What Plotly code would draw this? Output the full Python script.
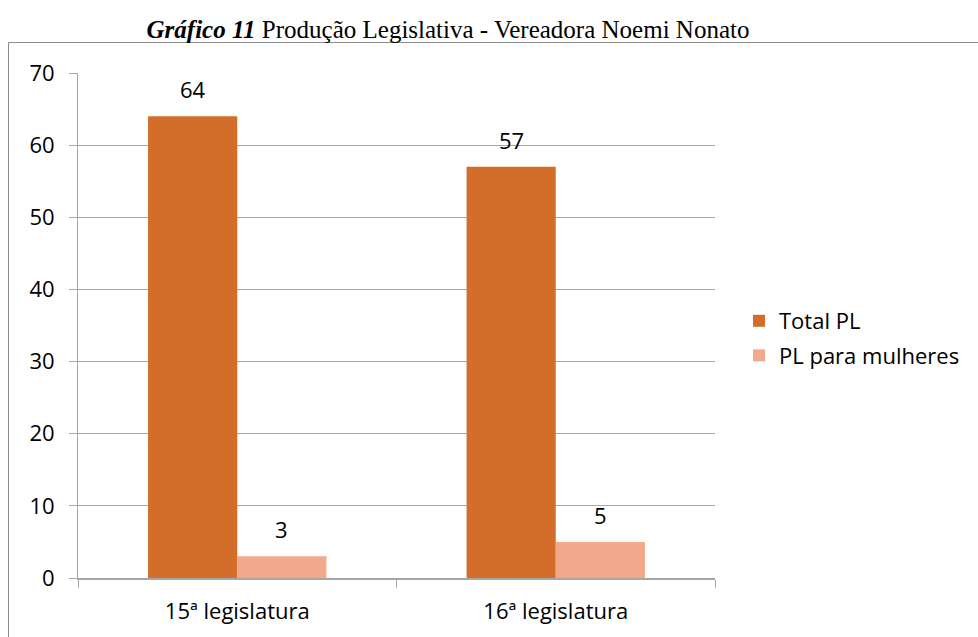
import plotly.graph_objects as go

categories = ["15ª legislatura", "16ª legislatura"]
total_pl = [64, 57]
pl_mulheres = [3, 5]
series_names = ["Total PL", "PL para mulheres"]
y_ticks = [0, 10, 20, 30, 40, 50, 60, 70]

W, H = 978, 637
# plot area in page pixels: x 78-715, y 73-578
L, T = 78, 73
pw, ph = 715 - 78, 578 - 73
R, B = W - L - pw, H - T - ph

FONT = "Open Sans"
BARGAP = 0.44

fig = go.Figure()
fig.add_bar(x=categories, y=total_pl, name=series_names[0], legendgroup="a",
            marker=dict(color="#D36E2A", line=dict(width=0)))
fig.add_bar(x=categories, y=pl_mulheres, name=series_names[1], legendgroup="b",
            marker=dict(color="#F2A98B", line=dict(width=0)))

# data labels
half = (1 - BARGAP) / 4
for vals, off in ((total_pl, -half), (pl_mulheres, half)):
    for i, v in enumerate(vals):
        fig.add_annotation(x=i + off, y=v, xref="x", yref="y", text=str(v),
                           showarrow=False, yshift=27,
                           font=dict(family=FONT, size=22, color="#000000"))

# outer border (top and left edges; the rest lies outside the picture)
bx0 = (8.5 - L) / pw
by1 = (T + ph - 42.5) / ph
border = dict(color="#8C8C8C", width=1)
fig.add_shape(type="line", xref="paper", yref="paper", x0=bx0, x1=(W + 50 - L) / pw,
              y0=by1, y1=by1, line=border, layer="below")
fig.add_shape(type="line", xref="paper", yref="paper", x0=bx0, x1=bx0,
              y0=by1, y1=-(H + 50 - (T + ph)) / ph, line=border, layer="below")

fig.update_layout(
    width=W, height=H,
    margin=dict(l=L, r=R, t=T, b=B, autoexpand=False),
    paper_bgcolor="white", plot_bgcolor="white",
    barmode="group", bargap=BARGAP, bargroupgap=0,
    title=dict(text="<b><i>Gráfico 11</i></b> Produção Legislativa - Vereadora Noemi Nonato",
               x=448 / W, xanchor="center", y=1 - 29 / H, yanchor="middle",
               font=dict(family="Liberation Serif", size=25, color="#000000")),
    legend=dict(x=(739 - L) / pw, y=(T + ph - 300) / ph, xanchor="left", yanchor="top",
                font=dict(family=FONT, size=22, color="#000000"),
                traceorder="grouped", tracegroupgap=3, itemwidth=30,
                bgcolor="rgba(0,0,0,0)"),
    font=dict(family=FONT, size=22, color="#000000"),
    showlegend=True,
)
fig.update_xaxes(showline=True, linecolor="#A6A6A6", linewidth=1.5,
                 ticks="outside", ticklen=8, tickcolor="#A6A6A6", tickson="boundaries",
                 ticklabelstandoff=13,
                 tickfont=dict(family=FONT, size=22, color="#000000"), showgrid=False)
fig.update_yaxes(range=[0, 70], tickvals=y_ticks, showline=True, linecolor="#A6A6A6",
                 linewidth=1, ticks="outside", ticklen=8, tickcolor="#A6A6A6",
                 showgrid=True, gridcolor="#A6A6A6", gridwidth=1, zeroline=False,
                 ticklabelstandoff=10,
                 tickfont=dict(family=FONT, size=22, color="#000000"))

fig.write_html("out.html", config={"displayModeBar": False},
               post_script="document.body.style.margin='0';document.body.style.overflow='hidden';")
